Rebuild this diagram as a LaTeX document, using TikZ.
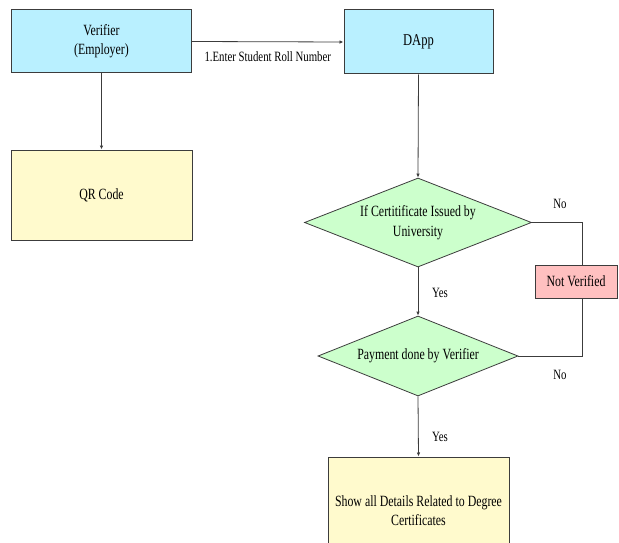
\documentclass[tikz,border=0pt]{standalone}
\usepackage{fontspec}
\setmainfont[FakeStretch=0.76]{Liberation Serif}
\usetikzlibrary{shapes.geometric,arrows.meta}
\definecolor{boxcyan}{RGB}{185,240,255}
\definecolor{boxyellow}{RGB}{255,250,205}
\definecolor{boxgreen}{RGB}{204,255,204}
\definecolor{boxpink}{RGB}{255,192,192}
\definecolor{edgegray}{RGB}{60,60,60}
\tikzset{
  box/.style={draw=edgegray, line width=1pt, rectangle, inner sep=2pt, align=center,
    font=\fontsize{15.6}{19}\selectfont},
  cyanbox/.style={box, fill=boxcyan},
  yellowbox/.style={box, fill=boxyellow},
  pinkbox/.style={box, fill=boxpink},
  decision/.style={draw=edgegray, line width=0.8pt, diamond, aspect=2.5, inner sep=0pt, fill=boxgreen,
    align=center, font=\fontsize{15.6}{20}\selectfont},
  conn/.style={draw=edgegray, line width=0.8pt},
  arr/.style={conn, -{Latex[length=4pt,width=3.5pt]}},
  lbl/.style={font=\fontsize{14.2}{16}\selectfont, inner sep=0pt}
}
\begin{document}
\begin{tikzpicture}[x=1pt,y=-1pt]
\useasboundingbox (0,0) rectangle (619,543);
\clip (0,0) rectangle (619,543);
\node[cyanbox, minimum width=180pt, minimum height=63pt] (ver) at (101.5,41.5) {Verifier\\(Employer)};
\node[cyanbox, minimum width=149pt, minimum height=64pt, font=\fontsize{16.5}{19}\selectfont] (dapp) at (418.5,42) {DApp};
\node[yellowbox, minimum width=181pt, minimum height=90pt] (qr) at (101.5,195) {QR Code};
\node[decision, minimum width=227pt, minimum height=89pt] (d1) at (418,222.5) {If Certitificate Issued by\\University};
\node[decision, minimum width=200pt, minimum height=80pt] (d2) at (418,356) {Payment done by Verifier};
\node[pinkbox, minimum width=82pt, minimum height=33pt] (nv) at (576,281.5) {Not Verified};
\node[yellowbox, minimum width=181pt, minimum height=108pt] (fin) at (418.5,511) {Show all Details Related to Degree\\Certificates};

\draw[arr] (ver.east) -- (dapp.west) node[lbl, midway, below=9pt] (l1) {1.Enter Student Roll Number};
\draw[arr] (ver.south) -- (qr.north);
\draw[arr] (dapp.south) -- (d1.north);
\draw[arr] (d1.south) -- (d2.north);
\draw[arr] (d2.south) -- (fin.north);
\draw[conn] (d1.east) -| ([xshift=6pt]nv.north);
\draw[conn] (d2.east) -| ([xshift=6pt]nv.south);

\node[lbl] (no1) at (560,204) {No};
\node[lbl] (no2) at (560,375) {No};
\node[lbl] (yes1) at (440,293) {Yes};
\node[lbl] (yes2) at (440,437) {Yes};
\end{tikzpicture}
\end{document}
